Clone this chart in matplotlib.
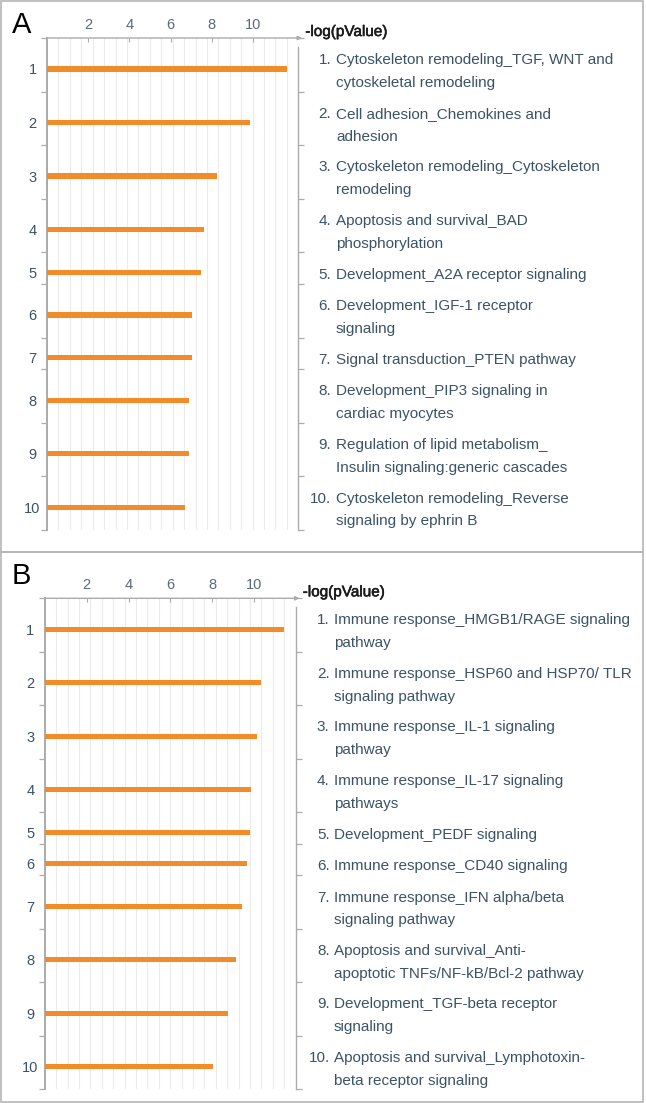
import numpy as np
import matplotlib.pyplot as plt
import matplotlib.patheffects as pe
from matplotlib.patches import Rectangle
from matplotlib.transforms import blended_transform_factory

plt.rcParams['font.family'] = ['Liberation Sans', 'DejaVu Sans']

# panel A data
labels_a = ["Cytoskeleton remodeling_TGF, WNT and\ncytoskeletal remodeling",
            "Cell adhesion_Chemokines and\nadhesion",
            "Cytoskeleton remodeling_Cytoskeleton\nremodeling",
            "Apoptosis and survival_BAD\nphosphorylation",
            "Development_A2A receptor signaling",
            "Development_IGF-1 receptor\nsignaling",
            "Signal transduction_PTEN pathway",
            "Development_PIP3 signaling in\ncardiac myocytes",
            "Regulation of lipid metabolism_\nInsulin signaling:generic cascades",
            "Cytoskeleton remodeling_Reverse\nsignaling by ephrin B"]
values_a = [11.63, 9.85, 8.25, 7.6, 7.48, 7.02, 7.02, 6.89, 6.89, 6.7]

# panel B data
labels_b = ["Immune response_HMGB1/RAGE signaling\npathway",
            "Immune response_HSP60 and HSP70/ TLR\nsignaling pathway",
            "Immune response_IL-1 signaling\npathway",
            "Immune response_IL-17 signaling\npathways",
            "Development_PEDF signaling",
            "Immune response_CD40 signaling",
            "Immune response_IFN alpha/beta\nsignaling pathway",
            "Apoptosis and survival_Anti-\napoptotic TNFs/NF-kB/Bcl-2 pathway",
            "Development_TGF-beta receptor\nsignaling",
            "Apoptosis and survival_Lymphotoxin-\nbeta receptor signaling"]
values_b = [11.43, 10.32, 10.14, 9.84, 9.78, 9.64, 9.41, 9.13, 8.73, 8.01]

xticks = [2, 4, 6, 8, 10]

W, H = 646, 1103
fig = plt.figure(figsize=(W / 100, H / 100), dpi=100)

grey = '#ababab'
txt_col = '#3a5366'


def panel(box, letter, labels, values, xmax, ax_px, num_x, txt_x):
    # outer box of the panel
    x0, y0, x1, y1 = box
    fig.patches.append(Rectangle((x0 / W, 1 - y1 / H), (x1 - x0) / W, (y1 - y0) / H,
                                 transform=fig.transFigure, fill=False,
                                 edgecolor='#b5b5b5', lw=1.2))
    fig.text(x0 / W + 11 / W, 1 - (y0 + 32) / H, letter, fontsize=21,
             color='black', va='baseline')

    l, r, t, b = ax_px
    ax = fig.add_axes([l / W, 1 - b / H, (r - l) / W, (b - t) / H])

    # row heights follow the number of text lines
    nlines = [s.count('\n') + 1 for s in labels]
    heights = np.array(nlines) + 0.445
    bounds = np.concatenate([[0], np.cumsum(heights)])
    centers = bounds[:-1] + heights / 2 + 0.19

    ax.set_xlim(0, xmax)
    ax.set_ylim(bounds[-1], 0)

    for g in np.arange(1, 22) * xmax / 22:
        ax.axvline(g, color='#ebebeb', lw=0.8, zorder=0)

    ax.barh(centers, values, height=0.24, color='#f28c28', zorder=3)

    for sp in ['top', 'bottom', 'right']:
        ax.spines[sp].set_visible(False)
    ax.spines['left'].set_color(grey)
    ax.spines['left'].set_linewidth(1.4)

    # top axis with arrow
    ax.annotate('', xy=(1.015, 1), xytext=(0, 1), xycoords='axes fraction',
                arrowprops=dict(arrowstyle='-|>', color=grey, lw=1.0,
                                mutation_scale=6, shrinkA=0, shrinkB=0),
                annotation_clip=False)
    ax.plot([1, 1], [0, 1 - 8.5 / (b - t)], transform=ax.transAxes,
            color=grey, lw=1.0, clip_on=False)

    ax.xaxis.tick_top()
    ax.set_xticks(xticks)
    ax.set_xticklabels([str(v) for v in xticks])
    ax.tick_params(axis='x', direction='in', length=3, color=grey, width=0.8,
                   labelsize=10.5, labelcolor='#566b7b', pad=4.5)

    ax.set_yticks(centers)
    ax.set_yticklabels([str(i + 1) for i in range(len(labels))], ha='center')
    ax.tick_params(axis='y', which='major', length=0, pad=10.5,
                   labelsize=10.5, labelcolor=txt_col)
    ax.set_yticks(bounds, minor=True)
    ax.tick_params(axis='y', which='minor', direction='out', length=4,
                   color=grey, width=0.9, left=True, right=True)

    ax.text(1 + 7 / (r - l), 1 + 6 / (b - t), '-log(pValue)', transform=ax.transAxes,
            fontsize=11, color='#1a1a1a', va='center', ha='left',
            path_effects=[pe.withStroke(linewidth=0.4, foreground='#1a1a1a')])

    trans = blended_transform_factory(fig.transFigure, ax.transData)
    line = 1.04
    for i, s in enumerate(labels):
        parts = s.split('\n')
        yc = centers[i] + 0.12
        y_first = yc - (len(parts) - 1) * line / 2
        ax.text(num_x / W, y_first, f'{i + 1}.', transform=trans, ha='right',
                va='center', fontsize=11, color=txt_col, clip_on=False)
        for j, p in enumerate(parts):
            ax.text(txt_x / W, y_first + j * line, p, transform=trans, ha='left',
                    va='center', fontsize=11, color=txt_col, clip_on=False)
    return ax


panel((1, 1, 643, 551.7), 'A', labels_a, values_a, 12.2,
      (47.05, 298.3, 38, 530), 331, 336)
panel((1, 551.7, 643, 1101.5), 'B', labels_b, values_b, 11.98,
      (44.8, 295.7, 598.3, 1089.3), 329.5, 334)

fig.savefig('out.png', dpi=100)
